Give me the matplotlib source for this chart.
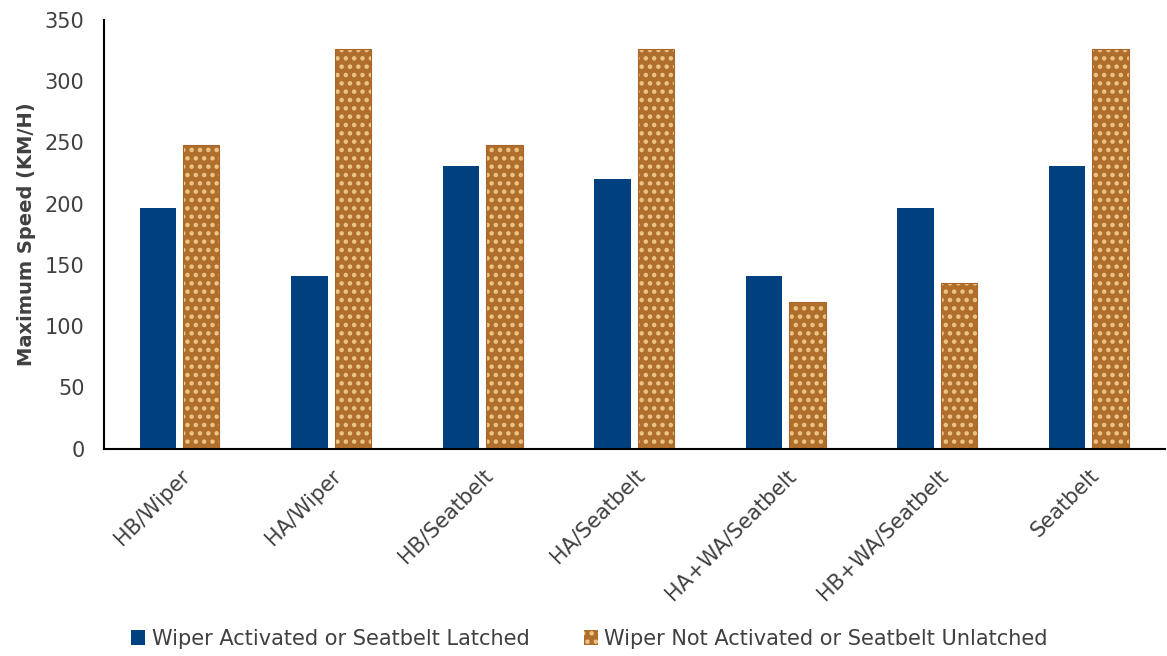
import numpy as np
import matplotlib
matplotlib.use('Agg')
import matplotlib.pyplot as plt

# --- data ---
categories = ['HB/Wiper', 'HA/Wiper', 'HB/Seatbelt', 'HA/Seatbelt',
              'HA+WA/Seatbelt', 'HB+WA/Seatbelt', 'Seatbelt']
latched = [196, 141, 231, 220, 141, 196, 231]
unlatched = [248, 326, 248, 326, 120, 135, 326]
series_names = ['Wiper Activated or Seatbelt Latched',
                'Wiper Not Activated or Seatbelt Unlatched']

BLUE = '#00407F'
BROWN = '#B06E2C'
DOT = '#EDC487'
TEXT = '#404040'

plt.rcParams['font.family'] = 'DejaVu Sans'
plt.rcParams['hatch.linewidth'] = 2.0

fig = plt.figure(figsize=(11.67, 6.56), dpi=100)
ax = fig.add_axes([0.089, 0.316, 0.909, 0.654])

x = np.arange(len(categories))
w = 0.24
off = 0.143

ax.bar(x - off, latched, width=w, color=BLUE, label=series_names[0])
ax.bar(x + off, unlatched, width=w, facecolor=BROWN, edgecolor=DOT,
       linewidth=0, hatch='..', label=series_names[1])
# thin brown outline round the textured bars
ax.bar(x + off, unlatched, width=w, fill=False, edgecolor='#A8662A', linewidth=0.8)

ax.set_xlim(-0.5, len(categories) - 0.5)
ax.set_ylim(0, 350)
ax.set_yticks(range(0, 351, 50))
ax.set_xticks(x)
ax.set_xticklabels(categories, rotation=45, ha='right', rotation_mode='anchor',
                   fontsize=15, color=TEXT)
ax.tick_params(axis='both', length=0)
ax.tick_params(axis='y', labelsize=15, labelcolor=TEXT, pad=14)
ax.tick_params(axis='x', pad=12)

ax.set_ylabel('Maximum Speed (KM/H)', fontsize=14, fontweight='bold', color=TEXT,
              labelpad=6)

for s in ['top', 'right']:
    ax.spines[s].set_visible(False)
ax.spines['left'].set_linewidth(1.5)
ax.spines['bottom'].set_linewidth(1.5)

leg = fig.legend(loc='lower center', bbox_to_anchor=(0.505, -0.018), ncol=2,
                 frameon=False, fontsize=15, handlelength=0.7, handleheight=0.7,
                 handletextpad=0.3, columnspacing=2.6)
for t in leg.get_texts():
    t.set_color(TEXT)

fig.savefig('out.png', dpi=100)
